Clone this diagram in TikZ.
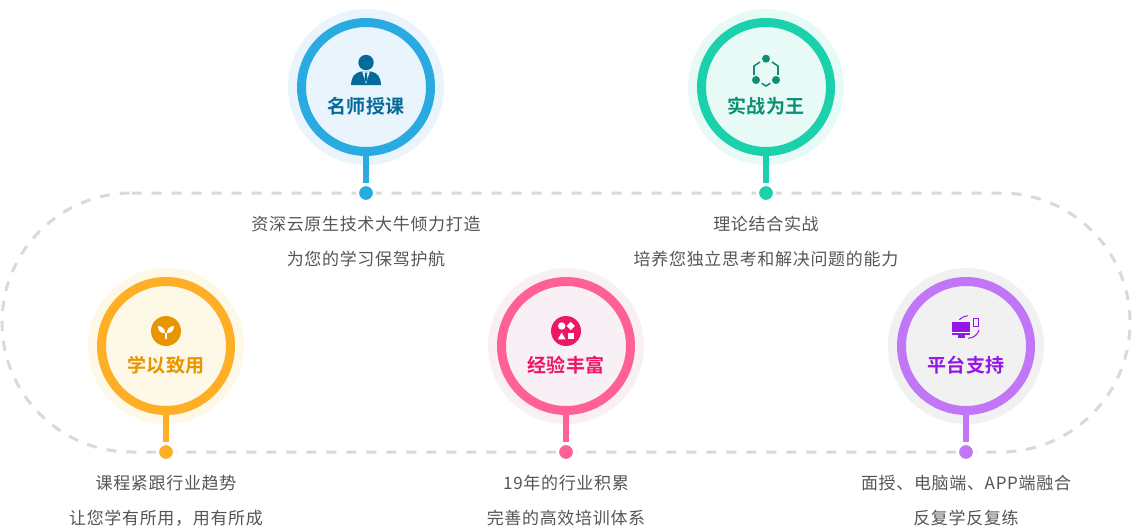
\documentclass[tikz,border=0pt]{standalone}
\usepackage{fontspec}
\setmainfont[LetterSpace=4]{Noto Sans CJK SC}
\newfontfamily\titlefont[LetterSpace=3]{Noto Sans CJK SC Bold}

\definecolor{blueA}{HTML}{29ABE2}
\definecolor{blueB}{HTML}{E9F4FC}
\definecolor{blueC}{HTML}{046A9A}
\definecolor{greenA}{HTML}{1BD1AC}
\definecolor{greenB}{HTML}{E7FAF6}
\definecolor{greenC}{HTML}{0D8F75}
\definecolor{orangeA}{HTML}{FFAF25}
\definecolor{orangeB}{HTML}{FEF8E7}
\definecolor{orangeC}{HTML}{E89500}
\definecolor{pinkA}{HTML}{FF6196}
\definecolor{pinkB}{HTML}{F8F0F4}
\definecolor{pinkC}{HTML}{EE1763}
\definecolor{purpleA}{HTML}{C076F7}
\definecolor{purpleB}{HTML}{F1F1F1}
\definecolor{purpleC}{HTML}{9417E8}
\definecolor{track}{HTML}{D9D9D9}
\definecolor{body}{HTML}{555555}

\begin{document}
\begin{tikzpicture}[x=1pt,y=-1pt,
  halo/.style={circle,fill=#1,minimum size=156pt,inner sep=0pt,outer sep=0pt},
  ring/.style={circle,draw=#1,line width=9pt,minimum size=129pt,inner sep=0pt,outer sep=4.5pt},
  dot/.style={circle,fill=#1,draw=white,line width=3pt,minimum size=17pt,inner sep=0pt,outer sep=1.5pt},
  stem/.style={draw=#1,line width=6.5pt},
  head/.style={text=#1,inner sep=0pt,font=\titlefont\fontsize{19}{22}\selectfont},
  txt/.style={text=body,inner sep=0pt,font=\fontsize{17}{20}\selectfont}]

\useasboundingbox (0,0) rectangle (1132,530);

\newcommand*{\topy}{87}
\newcommand*{\boty}{346}
\newcommand*{\topl}{193}
\newcommand*{\botl}{452}

%dashed track:
\draw[track,line width=3pt,dash pattern=on 10pt off 10pt,rounded corners=129.5pt]
  (131.5,\topl)--(1130,\topl)--(1130,\botl)--(2,\botl)--(2,\topl)--(131.5,\topl);

%teacher:
\node[halo=blueB] (haloa) at (366,\topy) {};
\node[ring=blueA] (ringa) at (366,\topy) {};
\node[dot=blueA] (dota) at (366,\topl) {};
\draw[stem=blueA] (ringa.south)--(dota.north);
\node[head=blueC] (heada) at (366,106.5) {名师授课};
\node[txt] (txta) at (366,224) {资深云原生技术大牛倾力打造};
\node[txt] (txtaa) at (366,259) {为您的学习保驾护航};
\fill[blueC] (366,62.5) circle (7.7);
\fill[blueC] (351,85) ..controls (351.5,77) and (354,73.5).. (360,71.7) -- (372,71.7) ..controls (378,73.5) and (380.5,77).. (381,85) -- cycle;
\fill[blueB] (362.3,71.7) -- (369.7,71.7) -- (366,84) -- cycle;
\fill[blueC] (364.5,72.5) -- (367.5,72.5) -- (366.8,75) -- (367.6,79) -- (366,82) -- (364.4,79) -- (365.2,75) -- cycle;

%practice:
\node[halo=greenB] (halob) at (766,\topy) {};
\node[ring=greenA] (ringb) at (766,\topy) {};
\node[dot=greenA] (dotb) at (766,\topl) {};
\draw[stem=greenA] (ringb.south)--(dotb.north);
\node[head=greenC] (headb) at (766,106.5) {实战为王};
\node[txt] (txtb) at (766,224) {理论结合实战};
\node[txt] (txtbb) at (766,259) {培养您独立思考和解决问题的能力};
\fill[greenC] (766,58.7) circle (4) (756,80) circle (4) (776,80) circle (4);
\draw[greenC,line width=1.6pt] (760,62)--(754,66)--(754,75);
\draw[greenC,line width=1.6pt] (772,62)--(778,66)--(778,75);
\draw[greenC,line width=1.6pt] (761.7,83.3)--(766,86)--(770.3,83.3);

%sprout:
\node[halo=orangeB] (haloc) at (166,\boty) {};
\node[ring=orangeA] (ringc) at (166,\boty) {};
\node[dot=orangeA] (dotc) at (166,\botl) {};
\draw[stem=orangeA] (ringc.south)--(dotc.north);
\node[head=orangeC] (headc) at (166,365.5) {学以致用};
\node[txt] (txtc) at (166,483) {课程紧跟行业趋势};
\node[txt] (txtcc) at (166,518) {让您学有所用，用有所成};
\fill[orangeC] (166,331) circle (15);
\draw[white,line width=1.6pt] (166,339)--(166,332.5);
\fill[white] (158,326) ..controls (158,331) and (161,333.5).. (165.2,333) ..controls (165.2,329) and (162,326).. (158,326) -- cycle;
\fill[white] (174,326) ..controls (174,331) and (171,333.5).. (166.8,333) ..controls (166.8,329) and (170,326).. (174,326) -- cycle;

%shapes:
\node[halo=pinkB] (halod) at (566,\boty) {};
\node[ring=pinkA] (ringd) at (566,\boty) {};
\node[dot=pinkA] (dotd) at (566,\botl) {};
\draw[stem=pinkA] (ringd.south)--(dotd.north);
\node[head=pinkC] (headd) at (566,365.5) {经验丰富};
\node[txt] (txtd) at (566,483) {19年的行业积累};
\node[txt] (txtdd) at (566,518) {完善的高效培训体系};
\fill[pinkC] (566,331) circle (15);
\fill[white] (561.7,326) circle (3.7);
\fill[white] (570.7,321.8) -- (574.9,326) -- (570.7,330.2) -- (566.5,326) -- cycle;
\fill[white] (561.7,332.5) -- (565.5,339.3) -- (557.9,339.3) -- cycle;
\fill[white] (567.7,333.3) rectangle (573.7,339.3);

%platform:
\node[halo=purpleB] (haloe) at (966,\boty) {};
\node[ring=purpleA] (ringe) at (966,\boty) {};
\node[dot=purpleA] (dote) at (966,\botl) {};
\draw[stem=purpleA] (ringe.south)--(dote.north);
\node[head=purpleC] (heade) at (966,365.5) {平台支持};
\node[txt] (txte) at (966,483) {面授、电脑端、APP端融合};
\node[txt] (txtee) at (966,518) {反复学反复练};
\fill[purpleC] (952,322) rectangle (970,335);
\draw[white,line width=0.6pt] (952,332)--(970,332);
\fill[purpleC] (958,335) rectangle (964.5,337.7);
\draw[purpleC,line width=1.2pt] (973.8,318.5) rectangle (978.5,326.5);
\draw[purpleC,line width=1pt] (959.3,319.7) ..controls (961.5,317.5) and (964.5,316).. (967.7,315.7);
\draw[purpleC,line width=1pt] (968.3,338.3) ..controls (974,338) and (978,334).. (979,330);

\end{tikzpicture}
\end{document}
